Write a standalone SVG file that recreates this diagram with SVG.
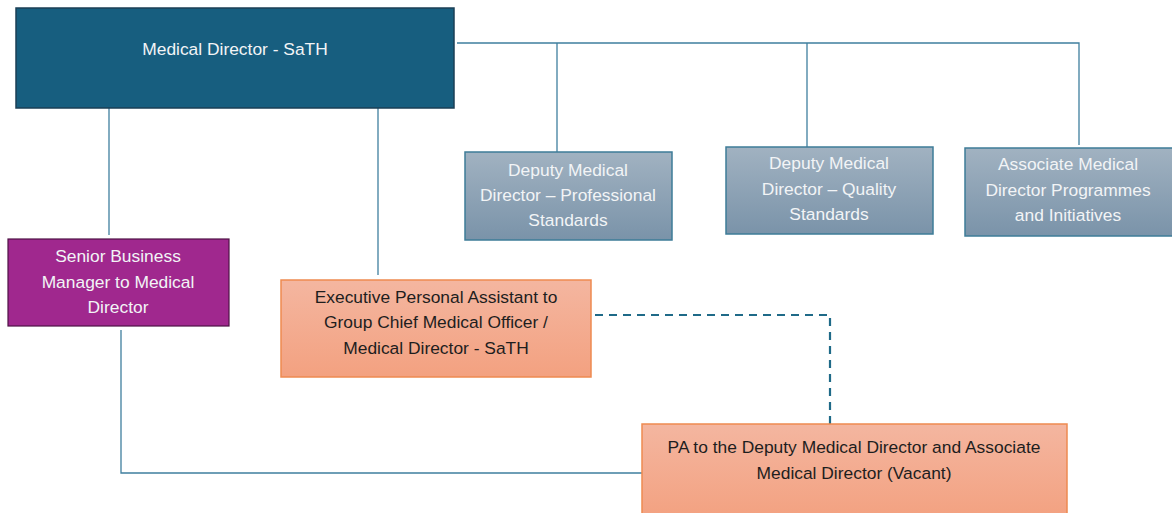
<svg xmlns="http://www.w3.org/2000/svg" width="1172" height="513" viewBox="0 0 1172 513">
<style>
text{font-family:"Liberation Sans",Arial,sans-serif;font-size:17.4px;text-anchor:middle}
.lt{fill:#F2F4F6}
.dk{fill:#1E1E1E}
.con{stroke:#3F7F9E;stroke-width:1.3;fill:none}
.dash{stroke:#1F6A88;stroke-width:2.2;fill:none;stroke-dasharray:8 6}
.grey{fill:url(#gGrey);stroke:#3E7C98;stroke-width:1.5}
.orng{fill:url(#gOr);stroke:#EE8A50;stroke-width:1.5}
</style>
<defs>
<linearGradient id="gGrey" x1="0" y1="0" x2="0" y2="1"><stop offset="0" stop-color="#A1B2C1"/><stop offset="1" stop-color="#7A93A9"/></linearGradient>
<linearGradient id="gOr" x1="0" y1="0" x2="0" y2="1"><stop offset="0" stop-color="#F4B6A0"/><stop offset="1" stop-color="#F3A180"/></linearGradient>
</defs>
<rect width="1172" height="513" fill="#FFFFFF"/>
<g id="connectors">
<path class="con" d="M457 43H1079V145"/>
<path class="con" d="M557 43V152"/>
<path class="con" d="M807 43V147"/>
<path class="con" d="M109 108V235"/>
<path class="con" d="M378 108V275"/>
<path class="con" d="M121 330V473H642"/>
<path class="dash" d="M595 315H830V424"/>
</g>
<g id="medical-director">
<rect x="16" y="8" width="438" height="100" fill="#175E7F" stroke="#1B3F55" stroke-width="1.5"/>
<text class="lt" x="235" y="55">Medical Director - SaTH</text>
</g>
<g id="deputy-professional">
<rect class="grey" x="465" y="152" width="207" height="88"/>
<text class="lt" x="568" y="176">Deputy Medical</text>
<text class="lt" x="568" y="201">Director – Professional</text>
<text class="lt" x="568" y="226">Standards</text>
</g>
<g id="deputy-quality">
<rect class="grey" x="726" y="147" width="207" height="87"/>
<text class="lt" x="829" y="169">Deputy Medical</text>
<text class="lt" x="829" y="195">Director – Quality</text>
<text class="lt" x="829" y="220">Standards</text>
</g>
<g id="associate">
<rect class="grey" x="965" y="148" width="210" height="88"/>
<text class="lt" x="1068" y="170">Associate Medical</text>
<text class="lt" x="1068" y="196">Director Programmes</text>
<text class="lt" x="1068" y="221">and Initiatives</text>
</g>
<g id="senior-business-manager">
<rect x="8" y="239" width="221" height="87" fill="#A0288E" stroke="#4E1245" stroke-width="1.2"/>
<text class="lt" x="118" y="262">Senior Business</text>
<text class="lt" x="118" y="288">Manager to Medical</text>
<text class="lt" x="118" y="313">Director</text>
</g>
<g id="executive-pa">
<rect class="orng" x="281" y="280" width="310" height="97"/>
<text class="dk" x="436" y="303">Executive Personal Assistant to</text>
<text class="dk" x="436" y="328">Group Chief Medical Officer /</text>
<text class="dk" x="436" y="354">Medical Director - SaTH</text>
</g>
<g id="pa-deputy">
<rect class="orng" x="642" y="424" width="425" height="95"/>
<text class="dk" x="854" y="453">PA to the Deputy Medical Director and Associate</text>
<text class="dk" x="854" y="479">Medical Director (Vacant)</text>
</g>
</svg>
